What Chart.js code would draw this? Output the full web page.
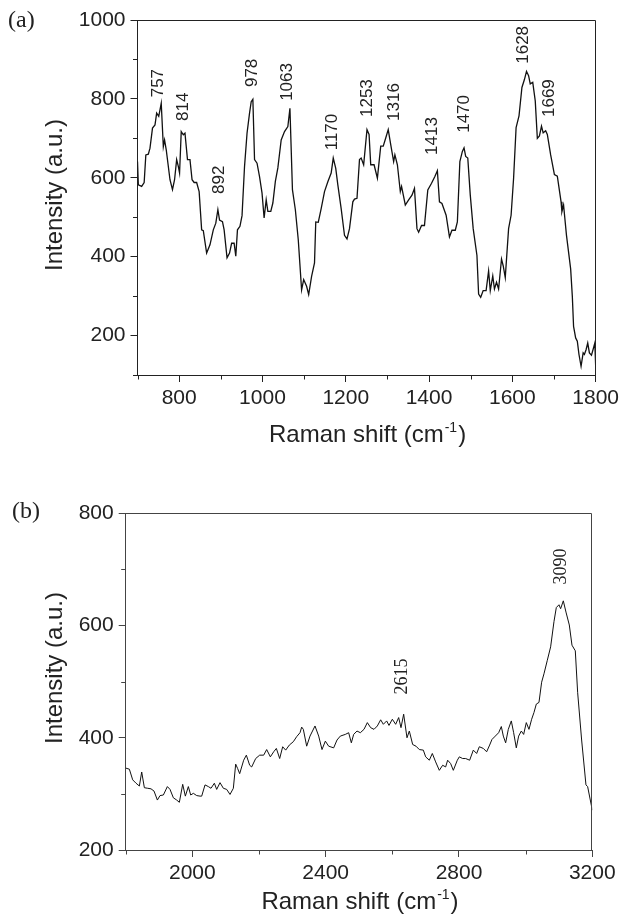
<!DOCTYPE html>
<html><head><meta charset="utf-8">
<script src="https://cdn.jsdelivr.net/npm/chart.js@4.4.1/dist/chart.umd.min.js"></script>
<style>
html,body{margin:0;padding:0;background:#fff;width:623px;height:914px;overflow:hidden}
canvas{position:absolute;left:0}
#ca{top:0;width:623px;height:460px}
#cb{top:460px;width:623px;height:454px}
</style></head><body>
<canvas id="ca" width="623" height="460"></canvas>
<canvas id="cb" width="623" height="454"></canvas>
<script>
// ---------- Panel (a) data ----------
const aShift = [700,702,710,716,720,726,730,736,742,746,751,754,757,762,765,769,778,784,789,794,798,801,805,810,814,820,826,831,836,842,848,854,858,866,874,882,888,893,897,904,908,915,921,926,932,936,940,946,951,957,963,969,973,977,981,987,993,999,1004,1009,1013,1020,1025,1031,1037,1045,1053,1061,1066,1072,1079,1086,1094,1099,1106,1111,1118,1125,1128,1134,1141,1149,1157,1165,1170,1176,1181,1189,1197,1203,1209,1217,1221,1227,1233,1237,1243,1251,1256,1260,1268,1276,1284,1290,1296,1302,1308,1315,1318,1324,1331,1334,1343,1351,1359,1365,1371,1375,1382,1389,1397,1406,1414,1420,1425,1431,1441,1449,1455,1463,1468,1474,1480,1484,1488,1493,1499,1506,1515,1519,1524,1530,1537,1543,1547,1553,1557,1562,1567,1574,1578,1583,1591,1597,1603,1609,1616,1623,1629,1634,1639,1643,1649,1655,1660,1665,1670,1674,1680,1684,1692,1701,1708,1717,1719,1723,1730,1740,1744,1747,1752,1756,1760,1765,1770,1773,1777,1781,1785,1790,1796,1798,1800];
const aIntensity = [641,582,578,588,658,660,675,726,734,764,756,772,789,679,696,671,595,570,595,646,629,612,717,709,713,646,646,595,588,588,565,468,466,409,430,468,485,519,493,489,468,397,409,434,434,401,468,477,504,629,713,764,793,799,646,637,603,561,498,544,515,515,536,591,625,696,717,730,776,570,519,443,316,342,325,304,350,384,488,487,522,565,590,612,650,624,582,522,454,445,471,539,546,548,646,650,633,722,710,633,633,599,680,680,701,722,684,641,658,633,565,578,531,544,556,573,471,462,479,479,569,586,603,618,539,535,505,450,467,467,488,641,667,676,654,650,556,471,403,305,297,314,314,364,314,351,318,335,318,394,377,347,471,505,599,727,757,829,849,870,859,838,842,795,700,706,731,714,719,710,658,608,604,539,514,531,454,369,300,223,194,186,152,122,156,152,164,181,156,150,173,181,125];
const aPeakText = ['757','814','892','978','1063','1170','1253','1316','1413','1470','1628','1669'];
const aPeakAtShift = [751,811,897,975,1060,1167,1251,1317,1409,1485,1627,1688];
const aPeakAtIntensity = [840,780,595,866,843,716,802,792,706,762,937,802];
const aXTicks = [800,1000,1200,1400,1600,1800];
const aYTicks = [200,400,600,800,1000];

// ---------- Panel (b) data ----------
const bShift = [1800,1811,1821,1831,1841,1848,1856,1866,1876,1885,1895,1903,1913,1925,1933,1943,1953,1961,1971,1979,1988,1995,2003,2013,2023,2028,2038,2048,2056,2066,2073,2083,2093,2103,2113,2123,2130,2136,2142,2154,2162,2172,2178,2190,2202,2214,2223,2234,2244,2252,2262,2271,2280,2291,2303,2313,2323,2328,2333,2343,2353,2368,2379,2389,2399,2409,2424,2434,2444,2459,2469,2477,2484,2494,2504,2515,2525,2535,2545,2555,2565,2573,2583,2590,2600,2610,2619,2626,2634,2644,2651,2661,2671,2681,2693,2700,2711,2720,2730,2741,2751,2760,2766,2775,2783,2795,2801,2811,2820,2832,2843,2853,2861,2873,2883,2892,2899,2909,2919,2927,2933,2940,2948,2957,2964,2972,2979,2987,2994,3002,3010,3018,3025,3032,3040,3048,3055,3065,3075,3085,3092,3100,3105,3113,3121,3131,3139,3149,3156,3168,3181,3186,3200];
const bIntensity = [346,344,325,319,314,339,311,310,309,305,289,297,298,313,308,293,289,285,317,296,313,298,301,297,296,296,316,313,310,319,308,320,310,308,299,310,353,345,336,360,369,351,348,363,369,369,379,366,375,381,363,384,378,387,393,402,409,419,415,385,403,421,403,379,394,385,382,396,403,406,409,391,406,412,409,415,427,418,415,421,432,424,430,422,433,424,436,418,442,400,412,388,385,379,378,366,360,372,357,342,351,348,360,354,342,360,366,363,363,360,378,372,384,381,375,387,397,403,409,420,403,391,415,430,409,382,403,412,406,427,415,433,445,460,463,499,514,538,562,607,632,637,630,644,624,601,565,555,481,396,316,313,271];
const bPeakText = ['2615','3090'];
const bPeakAtShift = [2631,3106];
const bPeakAtIntensity = [509,705];
const bXTicks = [2000,2400,2800,3200];
const bYTicks = [200,400,600,800];

function pts(xs, ys){ return xs.map((x,i)=>({x:x, y:ys[i]})); }

const decor = {
  id:'decor',
  afterDraw(chart, args, o){
    const ctx = chart.ctx, a = chart.chartArea, xs = chart.scales.x, ys = chart.scales.y;
    ctx.save();
    ctx.strokeStyle = o.axisColor; ctx.lineWidth = 1;
    ctx.beginPath();
    const t = Math.round(a.top)+0.5, r = Math.round(a.right)-0.5;
    ctx.moveTo(a.left, t); ctx.lineTo(r, t); ctx.lineTo(r, a.bottom);
    ctx.stroke();
    ctx.beginPath();
    xs.ticks.forEach(tk=>{
      if (o.xMajor.indexOf(tk.value) < 0) {
        const p = Math.round(xs.getPixelForValue(tk.value))+0.5;
        ctx.moveTo(p, a.bottom); ctx.lineTo(p, a.bottom+4.5);
      }
    });
    ys.ticks.forEach(tk=>{
      if (o.yMajor.indexOf(tk.value) < 0) {
        const p = Math.round(ys.getPixelForValue(tk.value))+0.5;
        ctx.moveTo(a.left, p); ctx.lineTo(a.left-4.5, p);
      }
    });
    ctx.stroke();
    ctx.fillStyle = '#222';
    ctx.font = o.peakFont;
    ctx.textAlign = 'center'; ctx.textBaseline = 'middle';
    o.peakText.forEach((s,i)=>{
      const px = xs.getPixelForValue(o.peakX[i]), py = ys.getPixelForValue(o.peakY[i]);
      ctx.save(); ctx.translate(px, py); ctx.rotate(-Math.PI/2); ctx.fillText(s, 0, 0); ctx.restore();
    });
    ctx.font = o.titleFont;
    ctx.textAlign = 'center'; ctx.textBaseline = 'alphabetic';
    ctx.save(); ctx.translate(o.yTitleX, o.yTitleY); ctx.rotate(-Math.PI/2);
    ctx.fillText('Intensity (a.u.)', 0, 0); ctx.restore();
    const s1 = 'Raman shift (cm', s2 = '-1', s3 = ')';
    ctx.font = o.titleFont; const w1 = ctx.measureText(s1).width, w3 = ctx.measureText(s3).width;
    ctx.font = o.supFont; const w2 = ctx.measureText(s2).width;
    const cx = (a.left + a.right)/2;
    let x0 = cx - (w1+w2+w3)/2;
    ctx.textAlign = 'left';
    ctx.font = o.titleFont; ctx.fillText(s1, x0, o.xTitleY);
    ctx.font = o.supFont; ctx.fillText(s2, x0+w1+1, o.xTitleY-10);
    ctx.font = o.titleFont; ctx.fillText(s3, x0+w1+w2+2, o.xTitleY);
    ctx.font = o.letterFont; ctx.textAlign = 'left';
    ctx.fillText(o.letter, o.letterX, o.letterY);
    ctx.restore();
  }
};

function makeChart(id, cfg){
  const tickFont = {family:'"Liberation Sans", Arial, sans-serif', size:21};
  return new Chart(document.getElementById(id), {
    type:'scatter',
    data:{datasets:[{data:pts(cfg.xv, cfg.yv), showLine:true, borderColor:'#111', borderWidth:cfg.lineW, pointRadius:0, tension:0, fill:false}]},
    options:{
      responsive:false, animation:false, devicePixelRatio:1,
      layout:{padding:cfg.padding},
      plugins:{legend:{display:false}, tooltip:{enabled:false},
        decor:{
          axisColor:cfg.axisColor, xMajor:cfg.xMajor, yMajor:cfg.yMajor,
          peakText:cfg.peakText, peakX:cfg.peakX, peakY:cfg.peakY, peakFont:cfg.peakFont,
          titleFont:'24px "Liberation Sans", Arial, sans-serif', supFont:'14px "Liberation Sans", Arial, sans-serif',
          yTitleX:cfg.yTitleX, yTitleY:cfg.yTitleY, xTitleY:cfg.xTitleY,
          letter:cfg.letter, letterX:cfg.letterX, letterY:cfg.letterY, letterFont:'24px "Liberation Serif", "Times New Roman", serif'
        }},
      scales:{
        x:{type:'linear', min:cfg.xmin, max:cfg.xmax,
          afterFit:s=>{s.height = 60;},
          ticks:{stepSize:cfg.xstep, autoSkip:false, maxRotation:0, color:'#222', font:tickFont, padding:4,
            callback:v=> cfg.xMajor.indexOf(v) >= 0 ? String(v) : ''},
          grid:{drawOnChartArea:false, drawTicks:true, tickLength:7, tickWidth:1,
            tickColor:c=> (c.tick && cfg.xMajor.indexOf(c.tick.value)>=0) ? cfg.axisColor : 'rgba(0,0,0,0)'},
          border:{display:true, color:cfg.axisColor, width:1}},
        y:{type:'linear', min:cfg.ymin, max:cfg.ymax,
          afterFit:s=>{s.width = cfg.yAxisW;},
          ticks:{stepSize:100, autoSkip:false, color:'#222', font:tickFont, padding:5,
            callback:v=> cfg.yMajor.indexOf(v) >= 0 ? String(v) : ''},
          grid:{drawOnChartArea:false, drawTicks:true, tickLength:7, tickWidth:1,
            tickColor:c=> (c.tick && cfg.yMajor.indexOf(c.tick.value)>=0) ? cfg.axisColor : 'rgba(0,0,0,0)'},
          border:{display:true, color:cfg.axisColor, width:1}}
      }
    },
    plugins:[decor]
  });
}

makeChart('ca', {
  xv:aShift, yv:aIntensity, xmin:700, xmax:1800, xstep:100, ymin:100, ymax:1000,
  xMajor:aXTicks, yMajor:aYTicks, axisColor:'#222', lineW:1.3,
  padding:{left:0, top:20, right:25.5, bottom:25}, yAxisW:137.5,
  peakText:aPeakText, peakX:aPeakAtShift, peakY:aPeakAtIntensity,
  peakFont:'17px "Liberation Sans", Arial, sans-serif',
  yTitleX:62, yTitleY:195, xTitleY:442,
  letter:'(a)', letterX:8, letterY:27
});

makeChart('cb', {
  xv:bShift, yv:bIntensity, xmin:1800, xmax:3200, xstep:200, ymin:200, ymax:800,
  xMajor:bXTicks, yMajor:bYTicks, axisColor:'#444', lineW:1.0,
  padding:{left:0, top:53.3, right:30.7, bottom:4}, yAxisW:125.7,
  peakText:bPeakText, peakX:bPeakAtShift, peakY:bPeakAtIntensity,
  peakFont:'18px "Liberation Serif", "Times New Roman", serif',
  yTitleX:62, yTitleY:208, xTitleY:449,
  letter:'(b)', letterX:12, letterY:58
});
</script>
</body></html>
